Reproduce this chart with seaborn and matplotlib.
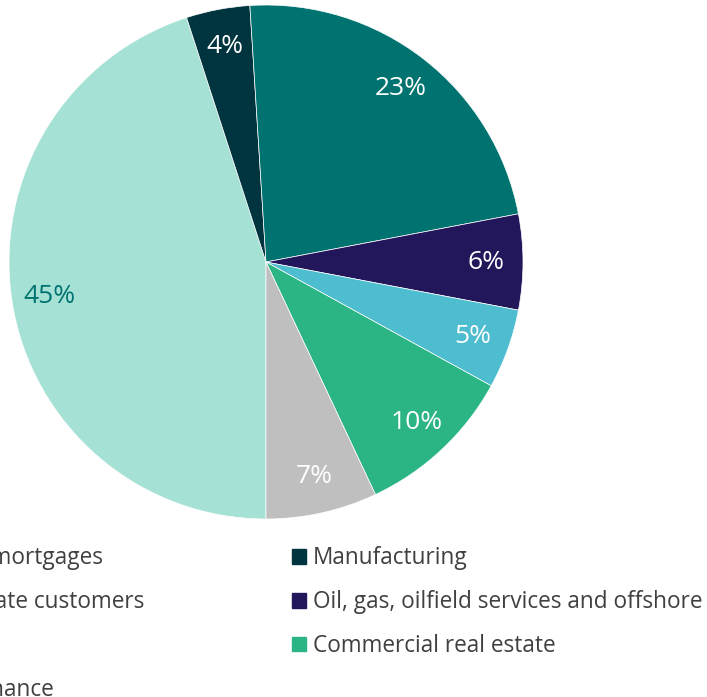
import matplotlib
matplotlib.use("Agg")
import matplotlib.pyplot as plt
import matplotlib.patches as mpatches
import seaborn as sns

# loan book split (order = legend row order)
segments = ["Home mortgages", "Manufacturing", "Corporate customers",
            "Oil, gas, oilfield services and offshore", "Other",
            "Commercial real estate", "Auto finance"]
shares = [45, 4, 23, 6, 5, 10, 7]
colors = ["#A5E1D4", "#00343F", "#007370", "#22175A", "#4FBDD0", "#2BB585", "#BFBFBF"]
label_colors = ["#007370", "white", "white", "white", "white", "white", "white"]

sns.set_style("white")
plt.rcParams['font.family'] = ['Open Sans', 'DejaVu Sans']

W, H = 707, 697
fig = plt.figure(figsize=(W / 100, H / 100), dpi=100)

# pie centre (266, 262) px from top-left, radius 257 px
cx, cy, r = 266, 262, 257
ax = fig.add_axes([(cx - r) / W, (H - cy - r) / H, 2 * r / W, 2 * r / H])

wedges, texts, autotexts = ax.pie(
    shares, colors=sns.color_palette(colors), startangle=-90, counterclock=False,
    autopct=lambda p: f"{p:.0f}%", pctdistance=0.855,
    wedgeprops=dict(linewidth=0.5, edgecolor="white"),
    textprops=dict(fontsize=19),
)
for t, c in zip(autotexts, label_colors):
    t.set_color(c)
ax.set_xlim(-1, 1)
ax.set_ylim(-1, 1)
ax.axis("off")

fs = 16.3
handles = [mpatches.Patch(color=c, label=s) for c, s in zip(colors, segments)]
leg_kw = dict(frameon=False, fontsize=fs, borderpad=0, borderaxespad=0,
              handlelength=0.62, handleheight=0.62, handletextpad=0.31,
              labelspacing=0.87, labelcolor="#404040")

left_idx = [0, 2, 4, 6]
right_idx = [1, 3, 5]
top = (H - 546.5) / H
leg1 = fig.legend([handles[i] for i in left_idx], [segments[i] for i in left_idx],
                  loc="upper left", bbox_to_anchor=(-100 / W, top), **leg_kw)
leg2 = fig.legend([handles[i] for i in right_idx], [segments[i] for i in right_idx],
                  loc="upper left", bbox_to_anchor=(292 / W, top), **leg_kw)

fig.savefig("out.png", dpi=100)
